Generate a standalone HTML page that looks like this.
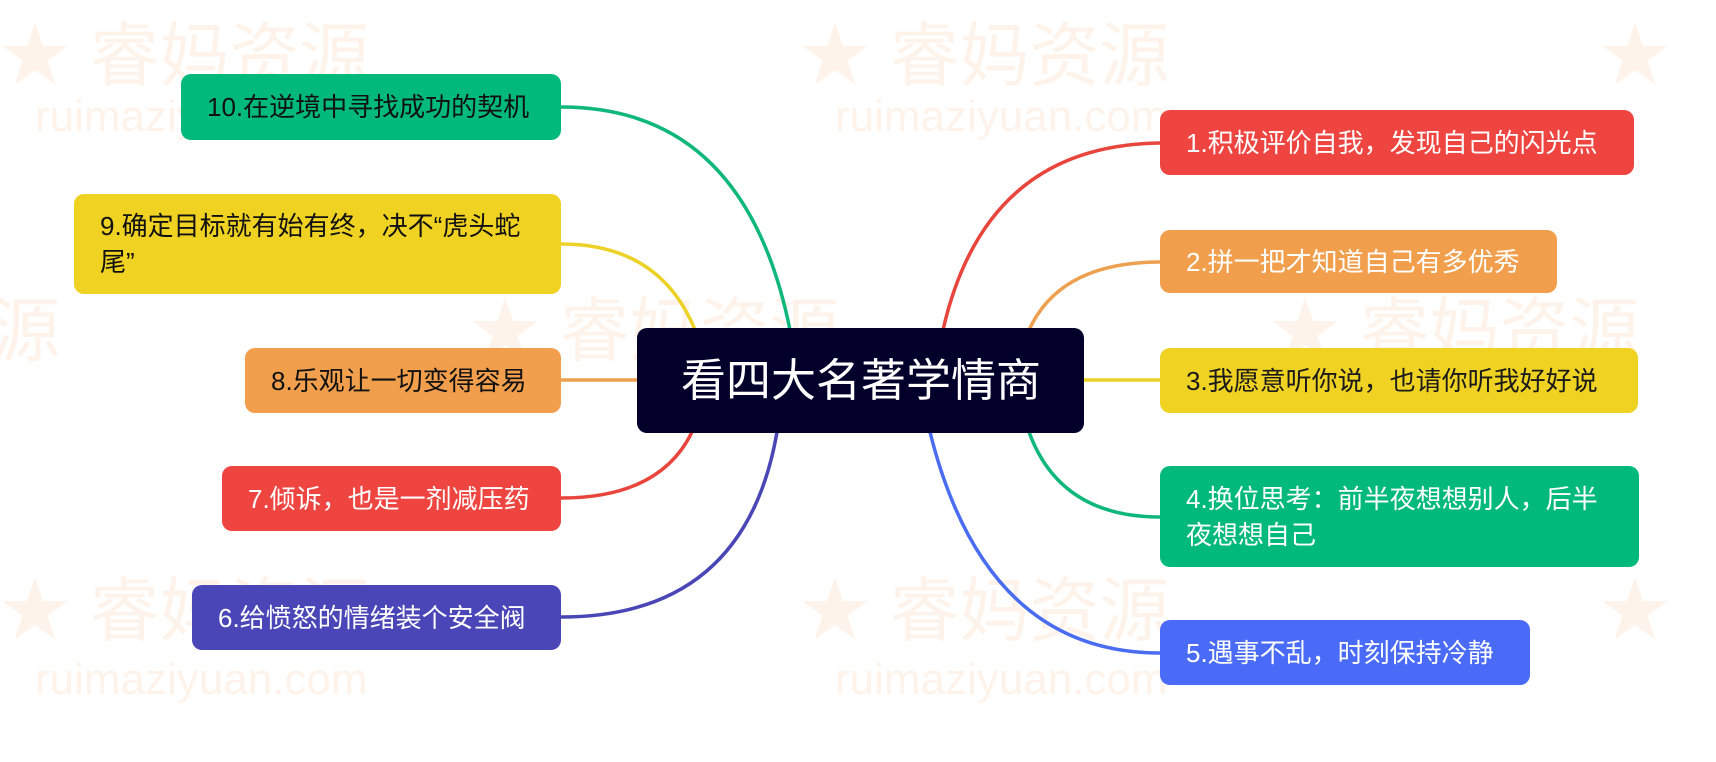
<!DOCTYPE html>
<html><head><meta charset="utf-8"><style>
html,body{margin:0;padding:0;background:#fff;}
body{width:1716px;height:762px;position:relative;overflow:hidden;font-family:"Liberation Sans","Noto Sans CJK SC",sans-serif;}
.n{position:absolute;border-radius:10px;box-sizing:border-box;padding:0 26px;display:flex;align-items:center;font-size:26px;line-height:36px;color:#fff;}
.wm{position:absolute;color:#fef3ea;font-size:70px;white-space:nowrap;}
.wu{position:absolute;color:#fef3ea;font-size:44px;white-space:nowrap;}
</style></head><body>
<div class="wm" style="left:0;top:0">★ 睿妈资源</div>
<div class="wm" style="left:800px;top:0">★ 睿妈资源</div>
<div class="wm" style="left:1600px;top:0">★</div>
<div class="wu" style="left:35px;top:92px">ruimaziyuan.com</div>
<div class="wu" style="left:835px;top:92px">ruimaziyuan.com</div>
<div class="wm" style="left:-10px;top:275px">源</div>
<div class="wm" style="left:470px;top:275px">★ 睿妈资源</div>
<div class="wm" style="left:1270px;top:275px">★ 睿妈资源</div>
<div class="wm" style="left:0;top:555px">★ 睿妈资源</div>
<div class="wm" style="left:800px;top:555px">★ 睿妈资源</div>
<div class="wm" style="left:1600px;top:555px">★</div>
<div class="wu" style="left:35px;top:655px">ruimaziyuan.com</div>
<div class="wu" style="left:835px;top:655px">ruimaziyuan.com</div>
<svg width="1716" height="762" style="position:absolute;left:0;top:0" fill="none" stroke-width="3.5">
<path d="M943 330 Q985 145 1160 143" stroke="#e8453c"/>
<path d="M1029 330 Q1060 262 1160 262" stroke="#eda04f"/>
<path d="M1083 380 L1160 380" stroke="#ecd226"/>
<path d="M1029 432 Q1060 517 1160 517" stroke="#10b77b"/>
<path d="M930 432 Q985 653 1160 653" stroke="#4a6cf0"/>
<path d="M790 330 Q745 107 561 107" stroke="#10b77b"/>
<path d="M695 330 Q660 244 561 244" stroke="#ecd226"/>
<path d="M638 380 L561 380" stroke="#eda04f"/>
<path d="M692 432 Q660 498 561 498" stroke="#e8453c"/>
<path d="M777 432 Q745 617 561 617" stroke="#4a46b5"/>
</svg>
<div class="n" style="left:637px;top:328px;width:447px;height:105px;background:#02002a;font-size:45px;padding-left:44px">看四大名著学情商</div>
<div class="n" style="left:1160px;top:110px;width:474px;height:65px;background:#ef4541">1.积极评价自我，发现自己的闪光点</div>
<div class="n" style="left:1160px;top:230px;width:397px;height:63px;background:#f19f4c">2.拼一把才知道自己有多优秀</div>
<div class="n" style="left:1160px;top:348px;width:478px;height:65px;background:#f0d223;color:#1a1a1a">3.我愿意听你说，也请你听我好好说</div>
<div class="n" style="left:1160px;top:466px;width:479px;height:101px;background:#00b97a">4.换位思考：前半夜想想别人，后半夜想想自己</div>
<div class="n" style="left:1160px;top:620px;width:370px;height:65px;background:#4a6bf8">5.遇事不乱，时刻保持冷静</div>
<div class="n" style="left:181px;top:74px;width:380px;height:66px;background:#00b97a;color:#111">10.在逆境中寻找成功的契机</div>
<div class="n" style="left:74px;top:194px;width:487px;height:100px;background:#f0d223;color:#111">9.确定目标就有始有终，决不“虎头蛇尾”</div>
<div class="n" style="left:245px;top:348px;width:316px;height:65px;background:#f19f4c;color:#111">8.乐观让一切变得容易</div>
<div class="n" style="left:222px;top:466px;width:339px;height:65px;background:#ef4541">7.倾诉，也是一剂减压药</div>
<div class="n" style="left:192px;top:585px;width:369px;height:65px;background:#4a46b8">6.给愤怒的情绪装个安全阀</div>
</body></html>
